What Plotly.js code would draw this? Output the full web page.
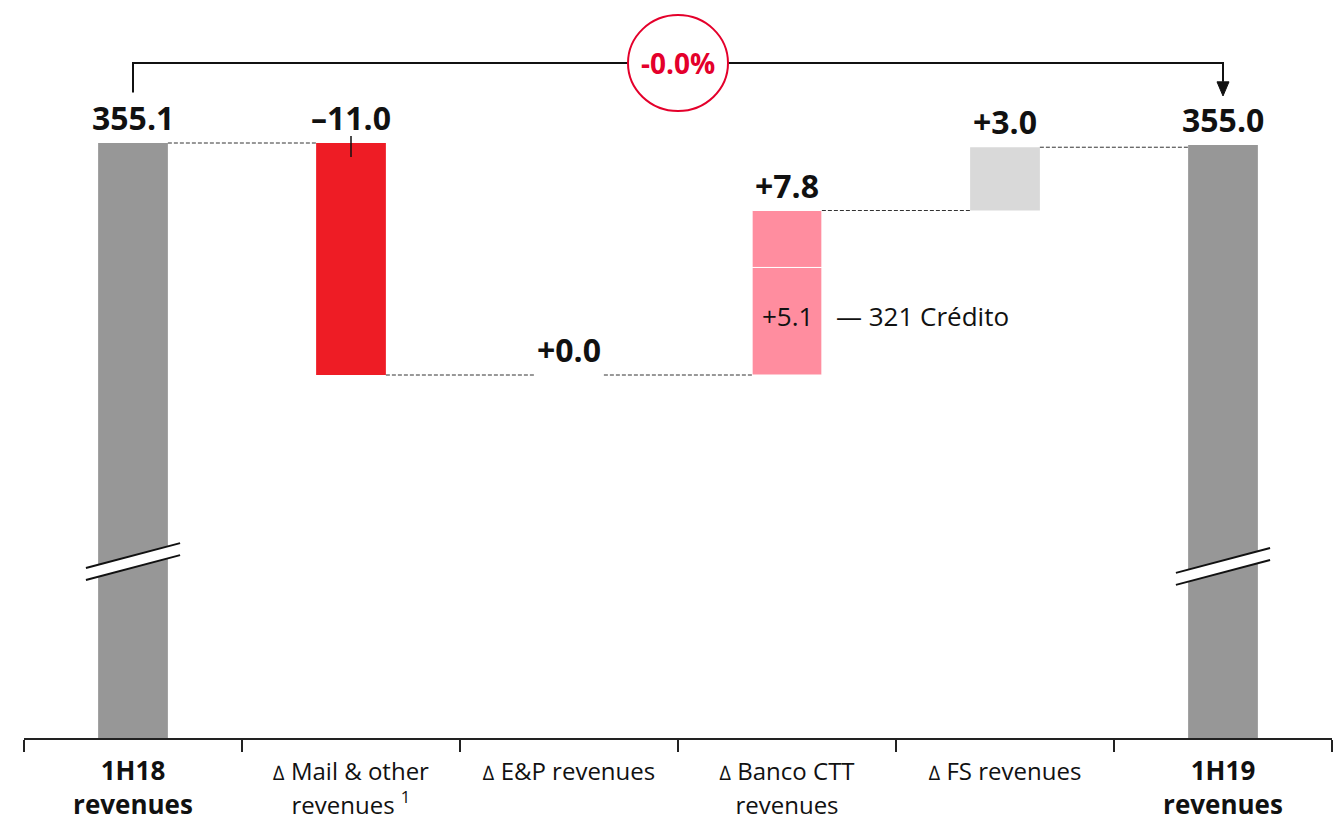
<!DOCTYPE html>
<html>
<head>
<meta charset="utf-8">
<script src="https://cdn.plot.ly/plotly-3.0.1.min.js"></script>
<style>html,body{margin:0;padding:0;background:#fff;}#chart{width:1338px;height:821px;}</style>
</head>
<body>
<div id="chart"></div>
<script>
// ---------- data ----------
const categories = ['1H18', 'Mail', 'EP', 'Banco', 'FS', '1H19'];
const tickLabels = [
  '<b>1H18</b><br><b>revenues</b>',
  '<span style="font-size:24px"><span style="font-size:20px">∆</span> Mail &amp; other</span><br><span style="font-size:24px">revenues <sup>1</sup></span>',
  '<span style="font-size:24px"><span style="font-size:20px">∆</span> E&amp;P revenues</span>',
  '<span style="font-size:24px"><span style="font-size:20px">∆</span> Banco CTT</span><br><span style="font-size:24px">revenues</span>',
  '<span style="font-size:24px"><span style="font-size:20px">∆</span> FS revenues</span>',
  '<b>1H19</b><br><b>revenues</b>'
];
const startValue = 355.1;
const endValue = 355.0;
const deltas = [-11.0, 0.0, 7.8, 3.0];          // Mail, E&P, Banco CTT, FS
const deltaLabels = ['–11.0', '+0.0', '+7.8', '+3.0'];
const totalLabels = ['355.1', '355.0'];
const bancoSubValue = 5.1;
const bancoSubLabel = '+5.1';
const bancoSubName = '— 321 Crédito';
const changeLabel = '-0.0%';

// ---------- styles ----------
const colTotal = '#979797';
const colRed = '#EE1C25';
const colPink = '#FF8D9F';
const colLight = '#D9D9D9';
const colText = '#111111';
const font = '"Open Sans", Lato, sans-serif';
const yMin = 326.89, yMax = 361.88;      // broken axis window
const halfW = 0.16;                        // half bar width (category units)
const nCat = categories.length;
const px = i => (i + 0.5) / nCat;          // category index -> paper x
const pxW = halfW / nCat;

// cumulative levels
const levels = [startValue];
deltas.forEach(d => levels.push(+(levels[levels.length - 1] + d).toFixed(2)));

const traces = [];
traces.push({type:'bar', x:[categories[0], categories[5]], y:[startValue, endValue], base:[0,0],
  width:2*halfW, marker:{color:colTotal}, hoverinfo:'skip'});
traces.push({type:'bar', x:[categories[1]], y:[deltas[0]], base:[levels[0]], width:2*halfW,
  marker:{color:colRed}, hoverinfo:'skip'});
traces.push({type:'bar', x:[categories[2]], y:[deltas[1]], base:[levels[1]], width:2*halfW,
  marker:{color:colLight}, hoverinfo:'skip'});
traces.push({type:'bar', x:[categories[3]], y:[bancoSubValue], base:[levels[2]], width:2*halfW,
  marker:{color:colPink, line:{color:'#fff', width:1}}, hoverinfo:'skip'});
traces.push({type:'bar', x:[categories[3]], y:[+(deltas[2]-bancoSubValue).toFixed(2)], base:[levels[2]+bancoSubValue], width:2*halfW,
  marker:{color:colPink, line:{color:'#fff', width:1}}, hoverinfo:'skip'});
traces.push({type:'bar', x:[categories[4]], y:[deltas[3]], base:[levels[3]], width:2*halfW,
  marker:{color:colLight}, hoverinfo:'skip'});

const shapes = [];
for (let i = 0; i < 5; i++) {
  shapes.push({type:'line', xref:'paper', yref:'y', x0:px(i)+pxW, x1:px(i+1)-pxW,
    y0:levels[i], y1:levels[i], line:{color:'#333', width:1, dash:'4px,2px'}});
}
shapes.push({type:'line', xref:'paper', yref:'y', x0:px(1), x1:px(1), y0:levels[0]+0.33, y1:levels[0]-0.66,
  line:{color:'#111', width:1.5}});
const brY = 358.89;
shapes.push({type:'path', xref:'paper', yref:'y',
  path:`M ${px(0)},357.5 L ${px(0)},${brY} L ${px(5)},${brY} L ${px(5)},358.0`,
  line:{color:'#111', width:2}});
const ah = 6/1308;
shapes.push({type:'path', xref:'paper', yref:'y',
  path:`M ${px(5)-ah},358.0 L ${px(5)+ah},358.0 L ${px(5)},357.33 Z`,
  fillcolor:'#111', line:{color:'#111', width:1}});
shapes.push({type:'circle', xref:'paper', yref:'y', xsizemode:'pixel', ysizemode:'pixel',
  xanchor:0.5, yanchor:brY, x0:-50, x1:50, y0:-48, y1:48,
  fillcolor:'#fff', line:{color:'#E4002B', width:2}});
function breakMark(i, yc) {
  const dx = 0.036, x0 = px(i) - dx, x1 = px(i) + dx;
  const a0 = yc - 0.28, a1 = yc + 0.90, g = 0.57;
  shapes.push({type:'path', xref:'paper', yref:'y',
    path:`M ${x0},${a0} L ${x1},${a1} L ${x1},${a1-g} L ${x0},${a0-g} Z`,
    fillcolor:'#fff', line:{width:0}});
  shapes.push({type:'line', xref:'paper', yref:'y', x0:x0, x1:x1, y0:a0, y1:a1, line:{color:'#111', width:2}});
  shapes.push({type:'line', xref:'paper', yref:'y', x0:x0, x1:x1, y0:a0-g, y1:a1-g, line:{color:'#111', width:2}});
}
breakMark(0, 335.23);
breakMark(5, 335.0);

const annotations = [];
const bigFont = {family:font, size:32, color:colText};
function valueLabel(cat, y, text) {
  annotations.push({x:cat, y:y, xref:'x', yref:'y', text:'<b>'+text+'</b>', showarrow:false,
    yanchor:'bottom', yshift:2, font:bigFont});
}
valueLabel(categories[0], startValue, totalLabels[0]);
valueLabel(categories[5], endValue, totalLabels[1]);
for (let k = 0; k < 4; k++) {
  const top = Math.max(levels[k], levels[k+1]);
  valueLabel(categories[k+1], top, deltaLabels[k]);
}
annotations.push({x:categories[3], y:levels[2]+bancoSubValue/2, xref:'x', yref:'y', text:bancoSubLabel,
  showarrow:false, yshift:5, font:{family:font, size:26, color:colText}});
annotations.push({x:px(3)+pxW, y:levels[2]+bancoSubValue/2, xref:'paper', yref:'y', text:bancoSubName,
  showarrow:false, xanchor:'left', xshift:12, yshift:5, font:{family:font, size:26, color:colText}});
annotations.push({x:0.5, y:brY, xref:'paper', yref:'y', text:'<b>'+changeLabel+'</b>', showarrow:false,
  font:{family:font, size:28, color:'#E4002B'}});

const layout = {
  width:1338, height:821,
  margin:{l:24, r:6, t:0, b:83, pad:0},
  paper_bgcolor:'#fff', plot_bgcolor:'#fff',
  barmode:'overlay', showlegend:false,
  xaxis:{type:'category', categoryorder:'array', categoryarray:categories, range:[-0.5, 5.5],
    tickvals:categories, ticktext:tickLabels,
    tickson:'boundaries', ticks:'outside', ticklen:12, tickwidth:1.5, tickcolor:'#222',
    ticklabelstandoff:9,
    showline:true, linecolor:'#222', linewidth:1.5, showgrid:false, zeroline:false,
    tickfont:{family:font, size:26, color:colText}, fixedrange:true},
  yaxis:{range:[yMin, yMax], visible:false, showgrid:false, zeroline:false, fixedrange:true},
  shapes:shapes, annotations:annotations,
  font:{family:font}
};
Plotly.newPlot('chart', traces, layout, {displayModeBar:false, staticPlot:true});
</script>
</body>
</html>
